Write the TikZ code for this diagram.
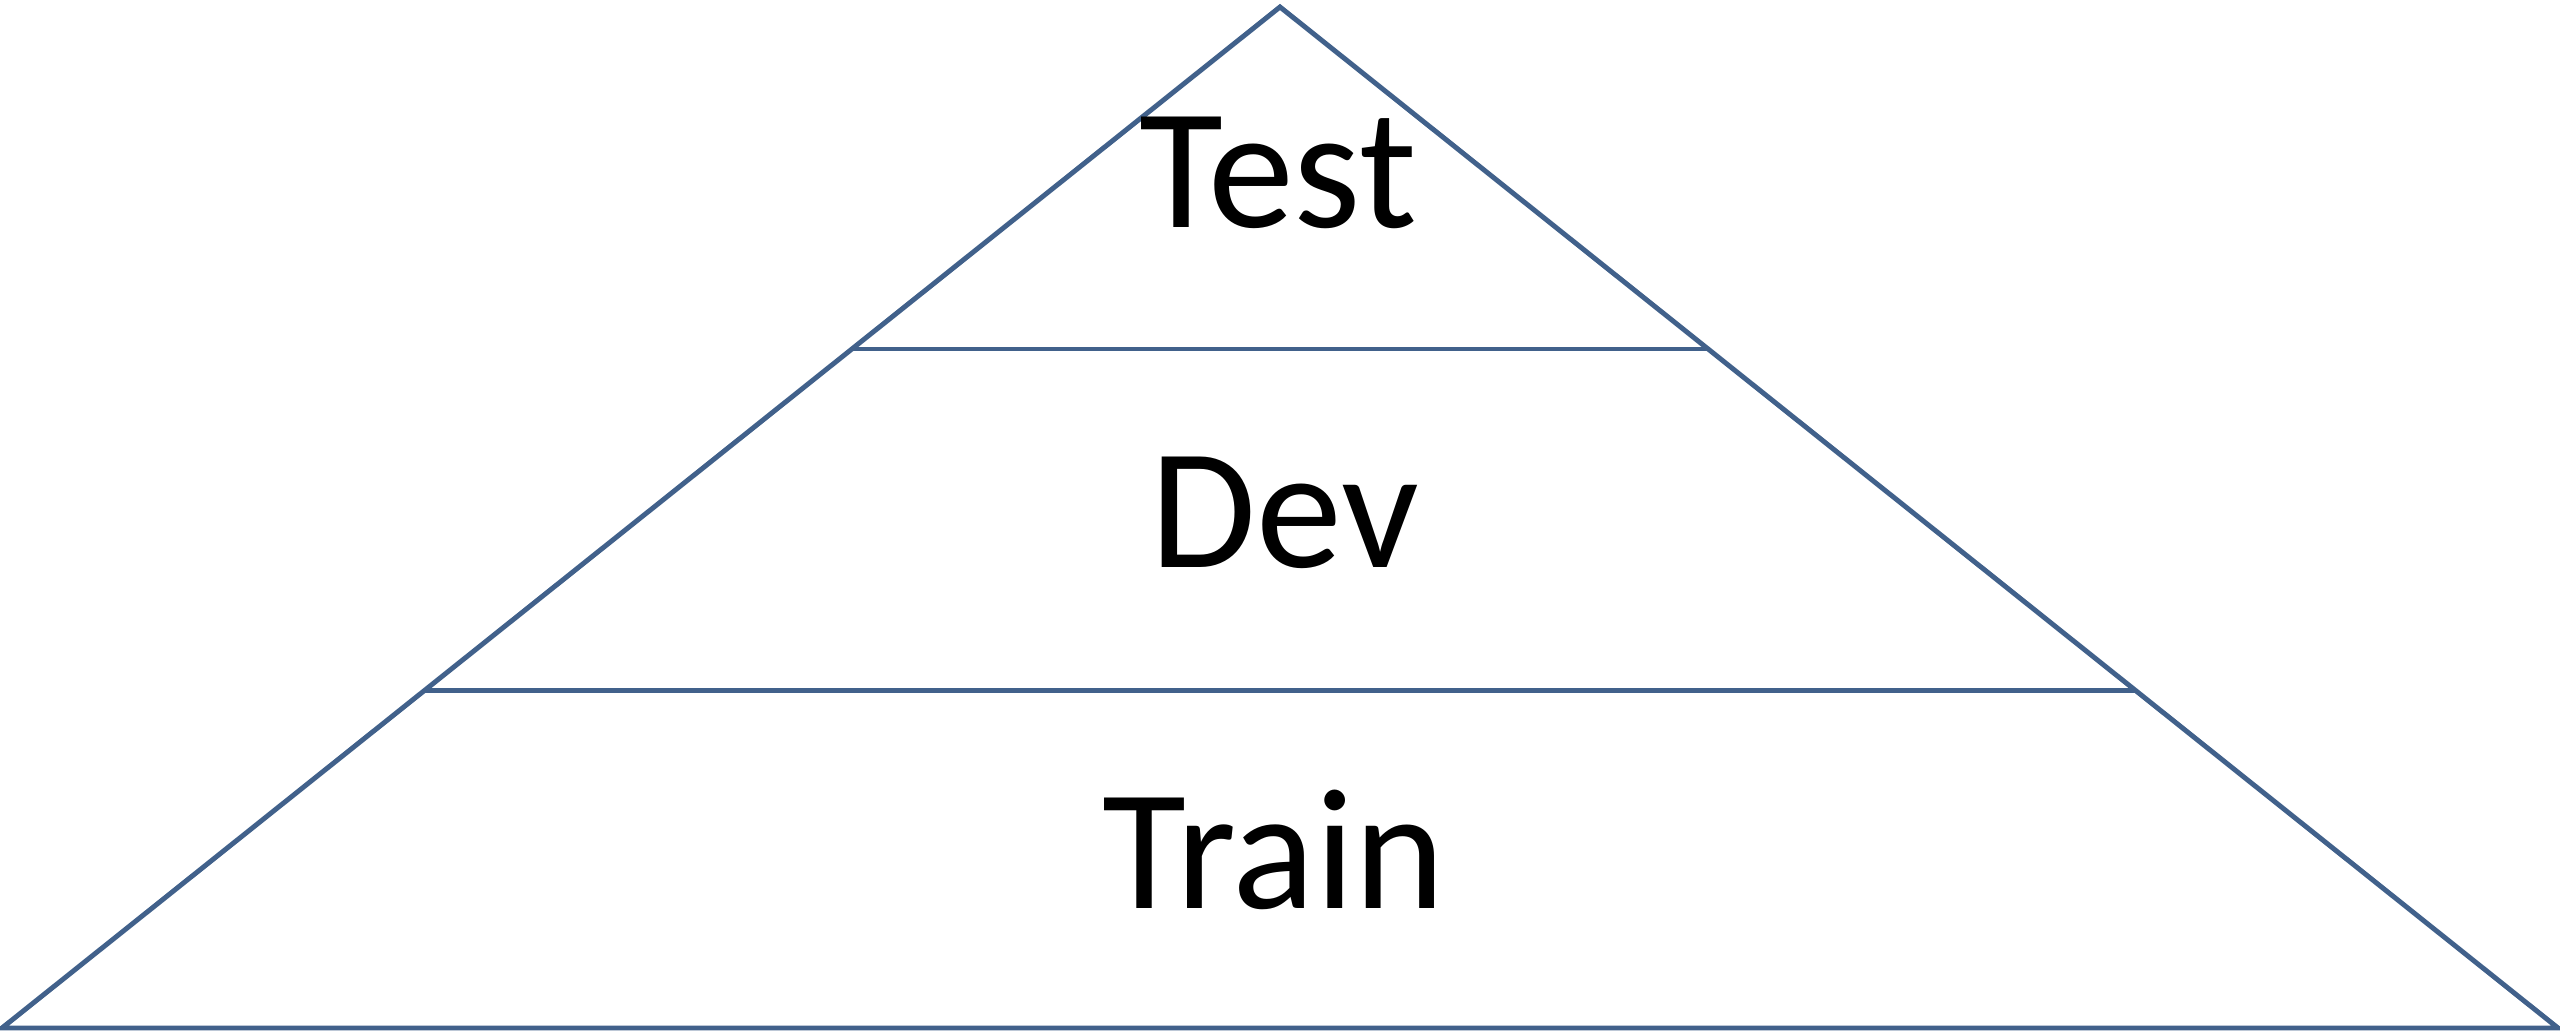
\documentclass[tikz,border=0pt]{standalone}
\usepackage{fontspec}
\setmainfont{Carlito}
\usetikzlibrary{calc}
\definecolor{pyramidblue}{HTML}{41618B}
\begin{document}
\begin{tikzpicture}[layer/.style={draw=pyramidblue, line width=1.4pt},
  label/.style={anchor=base, inner sep=0pt, font=\fontsize{49}{59}\selectfont}]
\useasboundingbox (0,0) rectangle (25.6,10.31);
\coordinate (top) at (12.8,10.24);
\coordinate (left) at (0.02,0.03);
\coordinate (right) at (25.58,0.03);
\draw [layer, line join=miter] (left) -- (top) -- (right) -- cycle;
% cuts between the sets
\coordinate (cut1l) at ($(top)!0.335!(left)$);
\coordinate (cut1r) at ($(top)!0.335!(right)$);
\coordinate (cut2l) at ($(top)!0.669!(left)$);
\coordinate (cut2r) at ($(top)!0.669!(right)$);
\draw [layer] (cut1l) -- (cut1r);
\draw [layer] (cut2l) -- (cut2r);
\node [label] (test) at (12.78,8.03) {Test};
\node [label] (dev) at (12.85,4.63) {Dev};
\node [label] (train) at (12.74,1.22) {Train};
\end{tikzpicture}
\end{document}
